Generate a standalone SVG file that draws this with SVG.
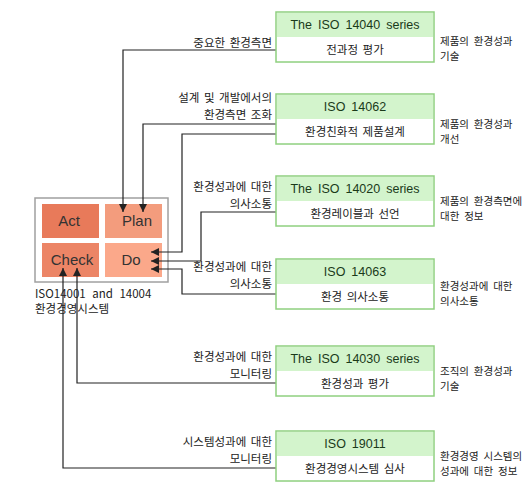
<svg xmlns="http://www.w3.org/2000/svg" width="530" height="496" viewBox="0 0 530 496">
<defs>
<style>
.lbl{font-family:"Noto Sans CJK KR","Liberation Sans",sans-serif;font-size:11.5px;fill:#222;word-spacing:2px}
.rt{font-family:"Noto Sans CJK KR","Liberation Sans",sans-serif;font-size:10.5px;fill:#222;word-spacing:2.5px}
.hd{font-family:"Liberation Sans","Noto Sans CJK KR",sans-serif;font-size:12.5px;fill:#1a3a1a;text-anchor:middle;word-spacing:2.5px}
.bd{font-family:"Noto Sans CJK KR","Liberation Sans",sans-serif;font-size:11.5px;fill:#222;text-anchor:middle;word-spacing:2px}
.pd{font-family:"Liberation Sans",sans-serif;font-size:15px;fill:#333;text-anchor:middle}
.box{fill:#fff;stroke:#8fd07f;stroke-width:1.5}
.hdr{fill:#d3f4cc}
.c{fill:none;stroke:#222;stroke-width:1.2}
.r{text-anchor:end}
</style>
<marker id="ah" markerWidth="8" markerHeight="8" refX="8" refY="4" orient="auto" markerUnits="userSpaceOnUse">
<path d="M0,0 L8,4 L0,8 Z" fill="#222"/>
</marker>
</defs>
<rect width="530" height="496" fill="#fff"/>

<g id="pdca">
<rect x="35" y="198" width="133" height="84" fill="#fff" stroke="#a0a0a0" stroke-width="1.5"/>
<rect x="42" y="204" width="57" height="34" fill="#e87a5a"/>
<rect x="105" y="204" width="57" height="34" fill="#f39c7d"/>
<rect x="42" y="243" width="57" height="34" fill="#ec8566"/>
<rect x="105" y="243" width="57" height="34" fill="#fba88a"/>
<text class="pd" x="69" y="226">Act</text>
<text class="pd" x="137" y="226">Plan</text>
<text class="pd" x="72" y="265">Check</text>
<text class="pd" x="131" y="265">Do</text>
<text class="lbl" x="35" y="298" style="word-spacing:4px">ISO14001 and 14004</text>
<text class="lbl" x="35" y="313">환경경영시스템</text>
</g>

<g id="connectors">
<polyline class="c" points="276,50 123,50 123,212" marker-end="url(#ah)"/>
<polyline class="c" points="276,124 143,124 143,212" marker-end="url(#ah)"/>
<polyline class="c" points="276,134 182,134 182,252 151,252" marker-end="url(#ah)"/>
<polyline class="c" points="276,212 201,212 201,261 151,261" marker-end="url(#ah)"/>
<polyline class="c" points="276,294 182,294 182,269 151,269" marker-end="url(#ah)"/>
<polyline class="c" points="276,383 77,383 77,268" marker-end="url(#ah)"/>
<polyline class="c" points="276,468 63,468 63,268" marker-end="url(#ah)"/>
</g>

<g id="iso14040">
<rect class="box" x="276" y="12" width="158" height="50"/>
<rect class="hdr" x="277" y="13" width="156" height="24"/>
<text class="hd" x="355" y="29">The ISO 14040 series</text>
<text class="bd" x="355" y="54">전과정 평가</text>
<text class="lbl r" x="272" y="47">중요한 환경측면</text>
<text class="rt" x="440" y="45">제품의 환경성과</text>
<text class="rt" x="440" y="60">기술</text>
</g>

<g id="iso14062">
<rect class="box" x="276" y="94" width="158" height="50"/>
<rect class="hdr" x="277" y="95" width="156" height="24"/>
<text class="hd" x="355" y="111">ISO 14062</text>
<text class="bd" x="355" y="136">환경친화적 제품설계</text>
<text class="lbl r" x="272" y="102">설계 및 개발에서의</text>
<text class="lbl r" x="272" y="119">환경측면 조화</text>
<text class="rt" x="440" y="128">제품의 환경성과</text>
<text class="rt" x="440" y="143">개선</text>
</g>

<g id="iso14020">
<rect class="box" x="276" y="176" width="158" height="50"/>
<rect class="hdr" x="277" y="177" width="156" height="24"/>
<text class="hd" x="355" y="193">The ISO 14020 series</text>
<text class="bd" x="355" y="218">환경레이블과 선언</text>
<text class="lbl r" x="272" y="191">환경성과에 대한</text>
<text class="lbl r" x="272" y="208">의사소통</text>
<text class="rt" x="440" y="205">제품의 환경측면에</text>
<text class="rt" x="440" y="220">대한 정보</text>
</g>

<g id="iso14063">
<rect class="box" x="276" y="259" width="158" height="50"/>
<rect class="hdr" x="277" y="260" width="156" height="24"/>
<text class="hd" x="355" y="276">ISO 14063</text>
<text class="bd" x="355" y="301">환경 의사소통</text>
<text class="lbl r" x="272" y="271">환경성과에 대한</text>
<text class="lbl r" x="272" y="288">의사소통</text>
<text class="rt" x="440" y="290">환경성과에 대한</text>
<text class="rt" x="440" y="305">의사소통</text>
</g>

<g id="iso14030">
<rect class="box" x="276" y="346" width="158" height="50"/>
<rect class="hdr" x="277" y="347" width="156" height="24"/>
<text class="hd" x="355" y="363">The ISO 14030 series</text>
<text class="bd" x="355" y="388">환경성과 평가</text>
<text class="lbl r" x="272" y="361">환경성과에 대한</text>
<text class="lbl r" x="272" y="378">모니터링</text>
<text class="rt" x="440" y="375">조직의 환경성과</text>
<text class="rt" x="440" y="390">기술</text>
</g>

<g id="iso19011">
<rect class="box" x="276" y="431" width="158" height="50"/>
<rect class="hdr" x="277" y="432" width="156" height="24"/>
<text class="hd" x="355" y="448">ISO 19011</text>
<text class="bd" x="355" y="473">환경경영시스템 심사</text>
<text class="lbl r" x="272" y="446">시스템성과에 대한</text>
<text class="lbl r" x="272" y="463">모니터링</text>
<text class="rt" x="440" y="460">환경경영 시스템의</text>
<text class="rt" x="440" y="475">성과에 대한 정보</text>
</g>
</svg>
